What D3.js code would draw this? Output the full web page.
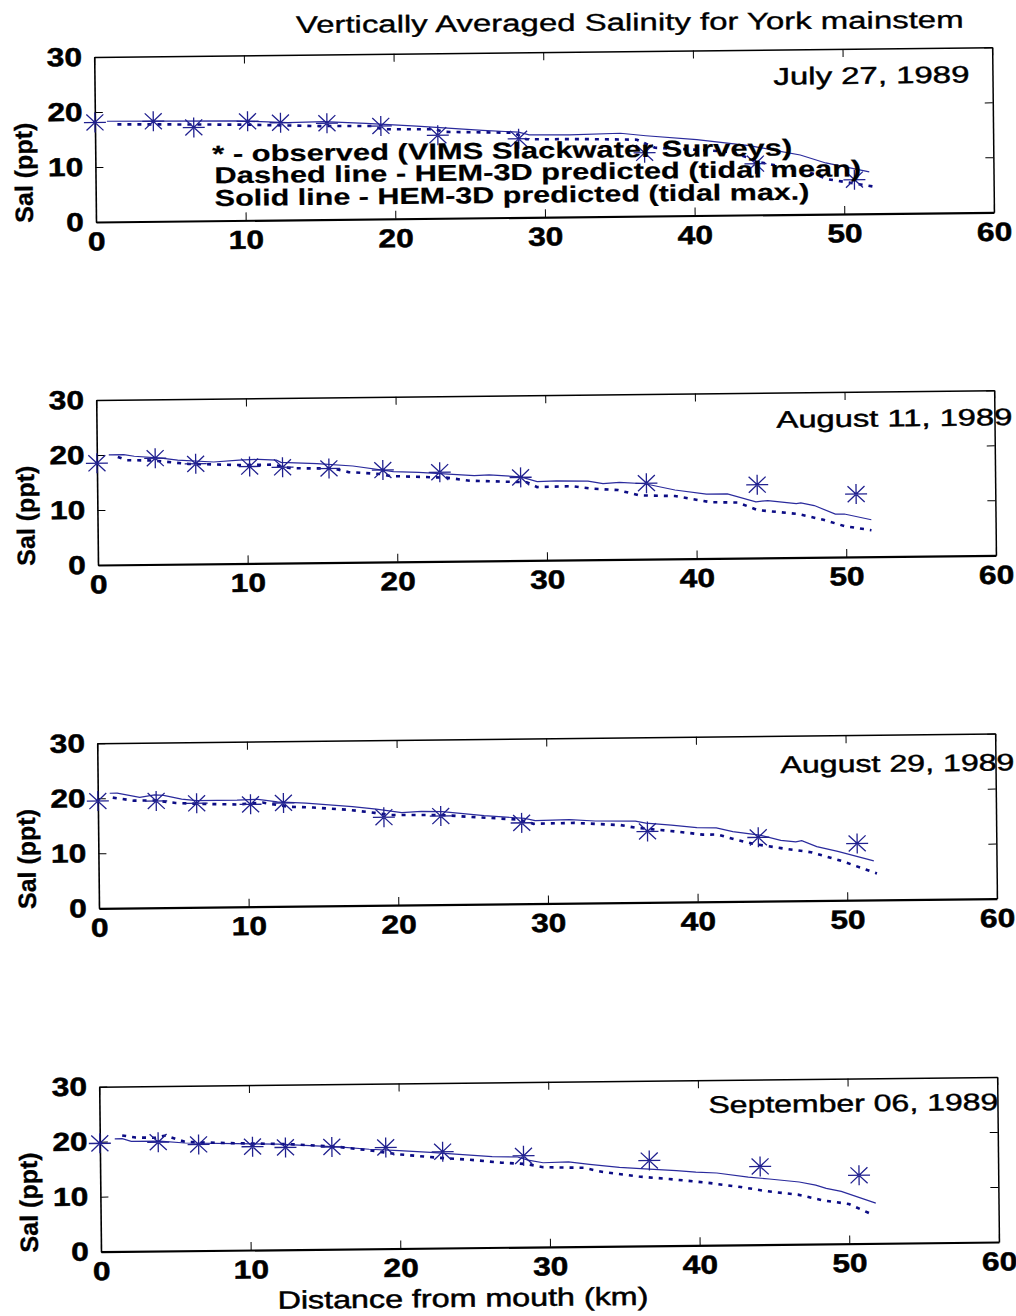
<!DOCTYPE html>
<html><head><meta charset="utf-8">
<script src="https://cdn.jsdelivr.net/npm/d3@7"></script>
<style>
body{margin:0;background:#fff}
svg{display:block}
text{font-family:"Liberation Sans",Arial,sans-serif;fill:#000}
</style>
</head><body>
<svg id="c" width="1016" height="1316"></svg>
<script>
// ---------------- data ----------------
const xTicks = [0, 10, 20, 30, 40, 50, 60];
const yTicks = [0, 10, 20, 30];
const titleText = "Vertically Averaged Salinity for York mainstem";
const xTitle = "Distance from mouth (km)";
const yTitle = "Sal (ppt)";
const legendLines = [
  "* - observed (VIMS Slackwater Surveys)",
  "Dashed line - HEM-3D predicted (tidal mean)",
  "Solid line - HEM-3D predicted (tidal max.)"
];
const dates = ["July 27, 1989", "August 11, 1989", "August 29, 1989", "September 06, 1989"];

const stations = [0, 3.9, 6.6, 10.2, 12.4, 15.5, 19.1, 22.9, 28.3, 36.7, 44.1, 50.7];
const stationsAug29 = [0, 3.9, 6.6, 10.2, 12.4, 19.1, 22.9, 28.3, 36.7, 44.1, 50.7];

const obsJul27 = [18.1, 18.2, 17.0, 18.0, 17.7, 17.5, 16.9, 15.1, 14.3, 11.5, 9.3, 6.2];
const obsAug11 = [18.5, 19.3, 18.2, 17.6, 17.4, 17.1, 16.7, 16.2, 15.1, 13.8, 13.3, 11.4];
const obsAug29 = [19.5, 19.4, 18.9, 18.6, 18.8, 16.0, 16.1, 14.7, 12.9, 11.6, 10.3];
const obsSep06 = [19.7, 19.8, 19.3, 18.8, 18.6, 18.6, 18.4, 17.5, 16.6, 15.5, 14.2, 12.4];

// model: [km, salinity]
const jul27Solid = [[0.8,18.3],[4.4,18.2],[9.5,18.1],[12.9,17.7],[15.3,17.8],[18.1,17.4],[21.5,16.8],[25.9,15.9],[28.3,15.5],[29.0,15.0],[31.7,14.9],[35.1,15.1],[36.8,14.6],[40.2,13.8],[43.7,12.6],[45.4,11.7],[47.1,10.8],[48.8,9.3],[51.7,7.6]];
const jul27Dashed = [[1.5,17.7],[5.0,17.6],[10.0,17.4],[15.0,17.0],[18.5,16.9],[19.2,16.3],[22.7,16.2],[23.3,15.7],[28.0,15.4],[28.8,14.2],[33.0,14.1],[36.2,13.9],[37.4,12.4],[40.5,11.9],[42.5,11.5],[44.5,9.5],[47.5,7.8],[49.0,6.3],[52.0,4.9]];
const aug11Solid = [[0.8,20.0],[1.8,20.0],[2.5,19.7],[4.3,19.3],[5.4,18.9],[7.8,18.5],[9.5,18.8],[10.8,18.9],[12.0,18.7],[12.3,18.3],[14.7,18.0],[17.1,17.5],[19.8,16.4],[21.5,16.2],[23.2,15.9],[25.2,15.5],[26.2,15.6],[28.3,15.2],[29.4,14.3],[30.7,14.4],[32.8,14.3],[33.8,13.8],[34.9,14.0],[36.6,13.7],[38.6,12.5],[40.7,11.7],[42.1,11.7],[44.0,10.2],[44.8,10.4],[46.7,9.8],[47.0,9.9],[47.9,9.4],[49.3,7.8],[49.9,7.8],[51.7,6.7]];
const aug11Dashed = [[1.4,19.6],[2.0,19.0],[3.7,18.9],[6.1,18.2],[9.5,17.9],[11.7,17.9],[13.0,17.2],[15.8,17.1],[16.8,16.4],[18.9,16.0],[19.6,15.6],[23.3,15.2],[24.9,14.6],[28.7,14.2],[29.4,13.3],[31.7,13.4],[33.1,12.9],[34.8,12.6],[36.2,11.6],[38.6,11.4],[41.0,10.2],[42.8,10.1],[44.1,8.7],[46.8,7.9],[48.5,6.8],[49.9,5.6],[51.7,4.8]];
const aug29Solid = [[0.8,20.9],[1.3,20.9],[2.8,20.1],[3.8,20.5],[4.4,20.4],[5.6,19.7],[6.6,19.4],[9.3,19.4],[10.7,19.5],[12.0,19.0],[13.9,18.7],[17.0,18.0],[18.6,17.5],[20.3,16.8],[21.6,17.0],[23.0,16.9],[25.8,16.1],[28.5,15.5],[29.2,15.1],[31.5,15.2],[33.2,14.9],[35.9,14.8],[36.6,14.4],[38.3,14.0],[40.0,13.5],[41.3,13.4],[42.4,12.7],[44.2,12.0],[45.6,11.0],[46.6,10.7],[47.0,10.9],[48.0,9.8],[49.4,8.9],[51.8,7.1]];
const aug29Dashed = [[1.0,20.1],[2.4,19.5],[3.8,19.5],[5.2,19.0],[6.6,18.8],[9.3,18.6],[11.0,18.9],[12.7,18.1],[14.4,17.9],[16.8,17.4],[18.5,16.8],[19.6,16.4],[23.0,16.3],[24.3,16.0],[28.1,15.3],[29.1,14.5],[31.8,14.6],[34.9,14.1],[35.9,13.6],[38.7,12.8],[40.4,12.2],[41.4,12.2],[42.5,11.3],[43.8,10.4],[45.6,9.6],[47.6,8.8],[49.7,7.1],[52.0,4.8]];
const sep06Solid = [[1.0,20.5],[1.5,20.5],[2.1,20.0],[4.0,20.0],[5.7,19.6],[9.1,19.4],[11.9,19.2],[13.3,19.0],[15.9,18.6],[18.0,18.1],[20.0,17.8],[22.1,17.4],[23.5,17.1],[26.2,16.5],[27.9,16.4],[28.6,15.8],[29.6,15.3],[31.3,15.4],[32.7,14.9],[34.7,14.3],[36.4,14.0],[38.5,13.6],[39.8,13.3],[41.2,13.1],[43.3,12.3],[44.7,11.9],[46.7,11.3],[47.8,10.7],[48.5,10.1],[49.5,9.5],[51.8,7.3]];
const sep06Dashed = [[1.5,21.1],[2.4,20.7],[3.7,20.6],[4.4,21.0],[5.7,19.8],[8.5,19.5],[12.6,19.2],[15.9,18.6],[18.0,17.9],[20.0,17.1],[22.7,16.4],[24.7,16.0],[26.8,15.4],[28.5,15.1],[29.6,14.5],[32.3,14.3],[33.6,13.5],[36.0,12.6],[38.0,12.1],[40.4,11.4],[42.8,10.5],[44.5,9.7],[46.6,9.0],[48.3,7.9],[50.0,7.2],[51.6,5.2]];

// ---------------- layout ----------------
const W = 898, H = 165, ANG = -0.62;
const navy = "#20208f";
const panels = [
  {bl:[96,222],    date:dates[0], dpos:[679,-130,196], sx:stations, so:obsJul27, solid:jul27Solid, dashed:jul27Dashed, legend:true},
  {bl:[98,565],    date:dates[1], dpos:[680,-130,236], sx:stations, so:obsAug11, solid:aug11Solid, dashed:aug11Dashed},
  {bl:[99,908.3],  date:dates[2], dpos:[683,-128,234], sx:stationsAug29, so:obsAug29, solid:aug29Solid, dashed:aug29Dashed},
  {bl:[101,1251.7],date:dates[3], dpos:[609,-132,290], sx:stations, so:obsSep06, solid:sep06Solid, dashed:sep06Dashed, xtitle:true}
];

const svg = d3.select("#c");
const x = d3.scaleLinear().domain([0, 60]).range([0, W]);
const y = d3.scaleLinear().domain([0, 30]).range([0, -H]);
const line = d3.line().x(d => x(d[0])).y(d => y(d[1]));
const starPath = "M-11,0H11M0,-10V10M-8.5,-8L8.5,8M-8.5,8L8.5,-8";

// text stretched horizontally to a target width
function fitText(g, str, tx, ty, size, weight, target, extra, anchor, stroke) {
  const t = g.append("text").attr("font-size", size).attr("font-weight", weight)
    .attr("text-anchor", anchor || "start").text(str);
  if (stroke) t.attr("stroke", "#000").attr("stroke-width", stroke);
  const w = t.node().getComputedTextLength();
  const sx = target / w;
  t.attr("transform", `translate(${tx},${ty})${extra || ""} scale(${sx},1)`);
  return t;
}

// title
fitText(svg.append("g").attr("transform", "translate(296,33) rotate(-0.45)"),
  titleText, 0, 0, 24, "normal", 668, "", "start", 0.35);

function styleAxis(sel, w) {
  sel.attr("font-size", null).attr("font-family", null);
  sel.select(".domain").attr("stroke", "#000").attr("stroke-width", w);
  sel.selectAll(".tick line").attr("stroke", "#000").attr("stroke-width", 1);
  sel.selectAll(".tick text").attr("font-size", 26).attr("font-weight", "bold")
    .attr("fill", "#000").attr("stroke", "#000").attr("stroke-width", 0.5)
    .attr("transform", "scale(1.22,1)");
}

panels.forEach(p => {
  const g = svg.append("g").attr("transform", `translate(${p.bl[0]},${p.bl[1]}) rotate(${ANG})`);

  g.append("g").call(d3.axisBottom(x).tickValues(xTicks).tickSize(-8).tickSizeOuter(0).tickPadding(10))
    .call(s => styleAxis(s, 2.2));
  g.append("g").attr("transform", `translate(0,${-H})`)
    .call(d3.axisTop(x).tickValues(xTicks).tickSize(-8).tickSizeOuter(0).tickFormat(""))
    .call(s => styleAxis(s, 1.5));
  g.append("g").call(d3.axisLeft(y).tickValues(yTicks).tickSize(-8).tickSizeOuter(0).tickPadding(10))
    .call(s => styleAxis(s, 1.6));
  g.append("g").attr("transform", `translate(${W},0)`)
    .call(d3.axisRight(y).tickValues(yTicks).tickSize(-8).tickSizeOuter(0).tickFormat(""))
    .call(s => styleAxis(s, 1.5));

  // y label
  fitText(g, yTitle, -63, -50, 25, "bold", 100, " rotate(-90)", "middle", 0.3);

  // date
  fitText(g, p.date, p.dpos[0], p.dpos[1], 24, "normal", p.dpos[2], "", "start", 0.45);

  // model lines
  g.append("path").datum(p.solid).attr("d", line).attr("fill", "none")
    .attr("stroke", "#2a2a9c").attr("stroke-width", 1.2);
  g.append("path").datum(p.dashed).attr("d", line).attr("fill", "none")
    .attr("stroke", "#0c0c85").attr("stroke-width", 2.6).attr("stroke-dasharray", "4,6");

  // observed stars
  g.selectAll("path.star").data(d3.zip(p.sx, p.so)).join("path").attr("class", "star")
    .attr("transform", d => `translate(${x(d[0])},${y(d[1])})`)
    .attr("d", starPath).attr("fill", "none").attr("stroke", navy).attr("stroke-width", 1.3);

  if (p.legend) {
    const lp = [[117,-59,580],[119,-37.4,647],[119,-14.7,595]];
    legendLines.forEach((t, i) => {
      fitText(g, t, lp[i][0], lp[i][1], 23, "bold", lp[i][2], "", "start", 0.2);
    });
  }
  if (p.xtitle) {
    fitText(g, xTitle, 176, 59, 25, "normal", 371, "", "start", 0.5);
  }
});
</script>
</body></html>
